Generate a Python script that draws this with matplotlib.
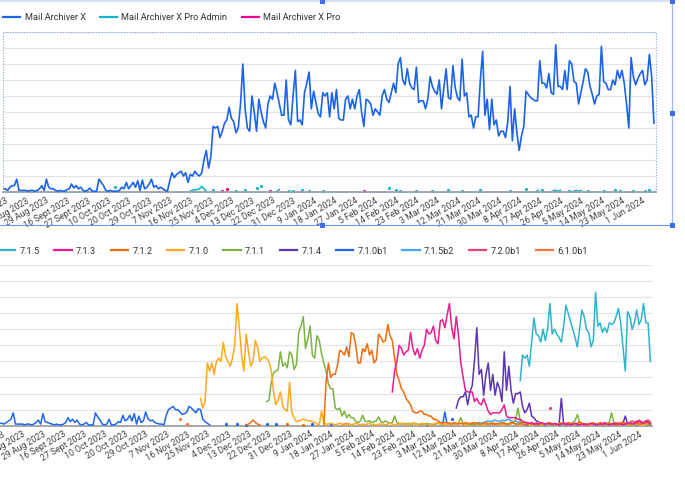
import numpy as np
import matplotlib.pyplot as plt
from matplotlib.lines import Line2D
from matplotlib.patches import Rectangle

plt.rcParams['font.family'] = ['Roboto', 'DejaVu Sans']

W, H = 685, 482
N = 286  # number of day categories on the x axis

tick_labels = ['23 Jul 2023', '11 Aug 2023', '29 Aug 2023', '16 Sept 2023', '27 Sept 2023',
               '10 Oct 2023', '20 Oct 2023', '29 Oct 2023', '7 Nov 2023', '16 Nov 2023',
               '25 Nov 2023', '4 Dec 2023', '13 Dec 2023', '22 Dec 2023', '31 Dec 2023',
               '9 Jan 2024', '18 Jan 2024', '27 Jan 2024', '5 Feb 2024', '14 Feb 2024',
               '23 Feb 2024', '3 Mar 2024', '12 Mar 2024', '21 Mar 2024', '30 Mar 2024',
               '8 Apr 2024', '17 Apr 2024', '26 Apr 2024', '5 May 2024', '14 May 2024',
               '23 May 2024', '1 Jun 2024']

# ---- top chart: product ----
mail_x = [2, 2, 1, 3, 4, 4, 8, 1, 1, 1, 1, 0.5, 1, 1, 0.5, 1, 2, 4, 1, 8,
          3, 2, 2, 1, 0.5, 1, 0.5, 0.5, 1.5, 2, 5, 2.5, 4, 2, 3, 1, 0.5, 1, 2.5, 0.5,
          0.5, 0.5, 8, 6, 4, 1, 0.5, 1, 0.5, 0.5, 0.5, 1, 3, 2, 6, 2, 4, 6, 3, 7,
          1, 7.5, 2, 3, 5, 8, 3, 4, 2, 3, 2, 1, 0.5,
          7, 12, 9, 11, 12, 13, 10, 12, 6, 11,
          10, 13, 11, 10, 12, 20, 26, 15, 22, 41,
          40, 41, 34, 38, 43, 45, 53, 46, 44, 37,
          40, 55, 80, 52, 40, 38, 60, 50, 38, 58,
          50, 44, 40, 55, 60, 58, 68, 62, 55, 48,
          48, 70, 45, 42, 60, 76, 44, 45, 42, 62,
          68, 75, 52, 63, 56, 49, 47, 62, 60, 62,
          47, 62, 52, 64, 46, 45,
          45, 58, 60, 52, 58, 52, 60, 64, 50, 41,
          58, 57, 55, 48, 52, 50, 48, 60, 64, 58,
          56, 62, 68, 62, 80, 84, 70, 67, 77, 68,
          65, 64, 78, 56, 57, 57, 52, 58, 72, 66,
          63, 61, 70, 52, 65, 77, 59, 58, 79, 65,
          59, 57, 83, 60, 62, 47, 48, 40, 47, 47,
          70, 88, 48, 58, 39, 58, 42, 45, 35, 38,
          38, 34, 44, 66, 32, 52, 37, 26, 35, 41,
          63, 61, 59, 58, 57, 57, 82, 68, 68, 65,
          74, 62, 61, 92, 66, 66, 64, 76, 64, 82,
          80, 69, 68, 55, 62, 69, 77, 75, 66, 61,
          55, 60, 61, 91, 69, 68, 64, 64, 70, 67,
          76, 71, 76, 68, 55, 40, 84, 72, 67, 71,
          74, 76, 67, 70, 86, 72, 43]

pro_admin = [(49, [3]), (82, [0.5, 1, 1.5, 1.5, 2, 3.5, 2, 0.5]), (92, [1]), (102, [0.5]),
             (106, [1]), (111, [2.3]), (113, [3.5]), (120, [0.5, 1.5]), (125, [0.5]),
             (127, [0.5]), (131, [1]), (134, [0.5]), (140, [0.5]), (169, [2.5]), (172, [1.5]),
             (174, [0.5]), (181, [0.5]), (188, [0.5]), (195, [1]), (201, [0.5]), (209, [1]),
             (222, [0.5]), (229, [2]), (234, [0.5]), (236, [1]), (241, [1, 1, 0.5, 1]),
             (248, [0.5]), (250, [0.5, 1, 0.5, 1]), (256, [0.5]), (263, [0.5]), (268, [1]),
             (270, [0.5]), (276, [0.5]), (281, [0.5]), (283, [1])]
pro = [(96, [0.5]), (98, [2]), (117, [0.5]), (158, [0.5])]

# ---- bottom chart: app version ----
v715 = [(228, [28, 44, 42, 44, 37, 52, 67, 57, 56, 52, 60, 53, 60, 76, 57, 60, 57, 55, 52, 62,
               75, 70, 65, 60, 55, 49, 60, 72, 68, 60, 58, 49, 53, 83, 62, 64, 58, 61, 58, 64,
               63, 64, 68, 73, 64, 49, 34, 71, 68, 60, 64, 72, 63, 66, 76, 64, 64, 40])]
v713 = [(172, [21, 34, 40, 50, 48, 44, 46, 47, 58, 48, 44, 48, 42, 47, 50, 60, 57, 58, 62, 53,
               51, 65, 66, 61, 69, 76, 61, 54, 68, 56, 39, 30, 22, 21, 21, 21, 15, 17, 14, 13,
               17, 13, 9, 7, 8, 8, 8, 8, 10, 13, 6, 5, 5, 5, 5, 4, 4, 3, 2,
               2, 1.5, 2, 1, 1.5, 1, 2, 1.5, 1, 1.5, 1, 1, 1.5, 1, 0.5, 1, 1.5, 1, 1, 0.5,
               1, 1.5, 1, 0.5, 1, 1, 0.5, 1, 1.5, 1, 1, 0.5, 1, 1, 1.5, 1, 0.5, 1, 1, 1.5,
               1, 1, 0.5, 1, 1.5, 2, 1, 1.5, 2.5, 3, 2, 1.5, 3, 2, 1])]
v712 = [(108, [0.5, 1, 2, 3.5, 2, 1, 0.5]), (126, [1]), (133, [0.5]),
        (142, [0.5, 27, 39, 30, 32, 32, 38, 47, 46, 44, 49, 43, 58, 57, 50, 39, 39, 48, 46, 51,
               44, 47, 39, 41, 57, 55, 52, 53, 63, 56, 53, 42, 32, 28, 23, 21, 17, 15, 13, 9,
               8, 8, 9, 9, 7, 7, 6, 6, 4, 4, 3, 2, 1.5, 2, 2,
               1.5, 1, 2, 1.5, 1, 1.5, 1, 2, 1.5, 1, 1.5, 2, 1.5, 1, 1, 1.5, 2, 1, 1.5, 1,
               1, 1.5, 1, 2, 1.5, 1, 1, 2, 1.5, 1, 1, 1.5, 1, 0.5, 1, 1.5, 1, 1, 0.5, 1,
               1.5, 1, 1, 1.5, 2, 1, 1, 0.5, 1, 1.5, 1, 1, 2, 1.5, 1, 1, 1.5, 2.5, 1.5, 1,
               1, 0.5, 1, 1.5, 1, 1, 2, 1.5, 1, 1, 1.5, 1, 0.5, 1, 1, 1.5, 2, 1, 1, 1.5,
               1, 2, 1.5, 1, 1, 1.5, 2, 2.5, 1.5])]
v710 = [(88, [17, 11, 15, 39, 34, 39, 32, 40, 42, 40, 52, 43, 40, 37, 42, 50, 76, 61, 44, 34,
              57, 46, 37, 40, 53, 49, 40, 42, 43, 42, 40, 34, 21, 13, 16, 21, 12, 10, 9, 27,
              8, 5, 2.5, 3, 3.5, 4, 3.5, 3, 3, 2.5, 2, 1, 0.5, 9, 1.5, 1, 1, 1.5, 1, 0.5,
              1, 1.5, 1, 0.5, 1, 1, 0.5, 1, 1.5, 1, 0.5, 1, 0.5, 1, 1.5, 0.5, 1, 0.5, 1, 1,
              1, 0.5, 1, 1.5, 1, 0.5, 1, 1, 1.5, 1, 0.5, 1, 1, 2, 1, 0.5, 1, 1.5, 1, 1,
              0.5, 1, 1, 1.5, 2, 1, 1, 0.5, 1, 1, 1.5, 1, 1, 2, 1.5, 1, 0.5, 1, 1.5, 2,
              1.5, 1, 1, 0.5, 1, 1, 1.5, 1, 2, 1.5, 1, 1, 0.5, 1, 1.5, 1, 1, 2, 1, 0.5,
              1, 1, 1.5, 1, 0.5, 1, 1, 1.5, 2, 1, 0.5, 1, 1, 1.5, 1, 1, 0.5, 1, 2, 1,
              1, 1.5, 1, 0.5, 1, 1, 1.5, 1, 1, 0.5, 1, 1.5, 2, 1, 1, 0.5, 1, 1, 1.5, 1,
              1, 0.5, 1, 1.5, 1, 2, 1, 1, 0.5, 1, 1.5, 1, 1, 0.5, 1, 1, 1.5, 1])]
v711 = [(117, [15, 16, 27, 33, 34, 35, 46, 37, 39, 36, 46, 44, 35, 38, 58, 62, 68, 48, 54, 62,
               44, 42, 56, 53, 45, 39, 34, 26, 23, 23, 11, 10, 11, 6, 9, 5, 7, 5, 5, 2.5,
               2, 3, 6.5, 3, 2.5, 3, 2, 2.5, 3, 5.5, 2.5, 2, 3, 2, 1.5, 2, 6, 2, 1.5, 1,
               1.5, 1, 1.5, 1, 1, 1.5, 1, 0.5, 1, 1, 1.5, 1, 1, 0.5, 1, 1.5, 1, 1, 0.5, 1,
               1, 1.5, 1, 1, 2, 5, 1.5, 1, 0.5, 1, 1, 0.5, 1, 1.5, 1, 1, 0.5, 1, 1, 1.5,
               1, 1, 1.5, 2, 1.5, 1, 1, 1.5, 2, 4, 11, 3, 1.5, 1, 1, 0.5, 1, 1, 1.5, 1,
               0.5, 1, 1, 1.5, 1, 0.5, 1, 1, 0.5, 1, 1, 1.5, 1, 1, 2, 3, 7, 2, 1, 1,
               0.5, 1, 1, 1.5, 1, 1, 0.5, 1, 1, 1.5, 2, 8, 2, 1, 1, 0.5, 1, 1, 1.5, 1,
               1, 0.5, 1, 1, 1.5, 1, 1, 0.5, 1])]
v714 = [(200, [11, 16, 18, 18, 21, 13, 21, 25, 41, 61, 32, 35, 19, 32, 39, 22, 32, 19, 27, 23,
               15, 46, 22, 37, 22, 14, 20, 20, 21, 12, 8, 10, 14, 6, 5, 3, 2.5, 1.5,
               1, 0.5, 1, 1, 0.5, 1, 1, 0.5, 17, 1, 0.5, 1, 1, 0.5, 1, 0.5, 1, 1, 0.5, 1,
               1, 1.5, 1, 0.5, 1, 1, 0.5, 1, 1, 1.5, 1, 1, 0.5, 1, 1, 1.5, 6, 1, 0.5, 1,
               1, 0.5, 1, 1, 1.5, 1, 0.5, 1])]
v710b1 = [(0, [1.5, 1.5, 1, 2, 3, 4, 8, 1, 1, 1, 1, 0.5, 1, 1, 0.5, 1, 2, 3.5, 1, 7.5,
               2.5, 2, 1.5, 1, 0.5, 1, 0.5, 0.5, 1, 2, 5, 2.5, 4, 2, 3.5, 1, 0.5, 1, 2, 0.5,
               0.5, 0.5, 8, 5.5, 3.5, 1, 0.5, 1, 4, 0.5, 0.5, 1, 2.5, 2, 6.5, 3, 4, 6.5, 3, 7.5,
               1, 6, 2, 3, 8.5, 4.5, 3, 3.5, 2, 1.5, 1, 1, 0.5,
               6.5, 10, 11, 12, 10, 10, 8.5, 7, 7.5, 8.5, 12, 11, 9.5, 8, 10.5, 10, 4, 2.5,
               1.5, 0.5]),
          (99, [1]), (104, [1]), (108, [0.5]), (117, [1]), (121, [1]), (137, [1]), (145, [1]),
          (187, [1]), (194, [0.5, 8.5, 1]), (198, [4]), (231, [1]), (236, [1.5])]
v715b2 = [(205, [1, 1, 1.5, 1, 1.5, 2, 1.5, 2, 2.5, 3, 2.5, 3, 3.5, 3, 2.5, 3.5, 3, 3.5, 4, 3,
                 2.5, 3, 2, 2.5, 2, 1.5, 1.5, 1, 1, 1.5, 1, 0.5, 1, 0.5, 0.5]),
          (244, [0.5, 1, 0.5, 1, 1.5, 1, 0.5]), (262, [1, 0.5, 1, 1.5, 1, 0.5, 1, 1])]
v720b1 = [(241, [11]),
          (262, [1, 1.5, 1, 2, 1, 1.5, 1, 2, 1.5, 1, 1, 2, 1.5, 1, 2, 3, 2, 1, 3.5, 2.5,
                 1.5, 3, 3.5, 2.5])]
v610b1 = [(79, [4]), (82, [1]), (150, [0.5, 1, 1.5, 1, 0.5]),
          (270, [1, 2, 1.5, 2.5, 1, 1.5, 2, 1, 2, 3, 1.5, 1, 2, 2.5, 1, 1.5])]


def place(parts):
    arr = np.full(N, np.nan)
    for start, vals in parts:
        vals = list(vals)[:N - start]
        arr[start:start + len(vals)] = vals
    return arr


def draw(ax, y, color, lw=1.1, z=2):
    x = np.arange(N)
    ax.plot(x, y, color=color, lw=lw, solid_joinstyle='round', zorder=z)
    ok = ~np.isnan(y)
    prev = np.r_[False, ok[:-1]]
    nxt = np.r_[ok[1:], False]
    iso = ok & ~prev & ~nxt
    ax.plot(x[iso], y[iso], 'o', color=color, ms=2.3, mew=0, clip_on=False, zorder=z)


def style(ax, xlim):
    ax.set_xlim(*xlim)
    ax.set_ylim(0, 100)
    ax.set_yticks(range(10, 101, 10))
    ax.set_yticklabels([])
    ax.tick_params(axis='y', length=0)
    ax.grid(axis='y', color='#e4e4e4', lw=0.9)
    ax.set_axisbelow(True)
    for s in ['top', 'right', 'left']:
        ax.spines[s].set_visible(False)
    ax.spines['bottom'].set_color('#a0a0a0')
    ax.spines['bottom'].set_linewidth(1.3)
    ticks = list(range(1, N, 9))[:len(tick_labels)]
    ax.set_xticks(ticks)
    ax.set_xticklabels(tick_labels, rotation=30, ha='right', va='top',
                       rotation_mode='anchor', fontsize=6.3, color='#444444')
    ax.tick_params(axis='x', length=0, pad=3)


fig = plt.figure(figsize=(W / 100, H / 100), dpi=100)
fig.patch.set_facecolor('white')

# top chart
ax1 = fig.add_axes([3 / W, (H - 192) / H, 653 / W, 160 / H])
style(ax1, (0, 285.9))
top_series = [('Mail Archiver X', np.array(mail_x, float), '#1a63ea'),
              ('Mail Archiver X Pro Admin', place(pro_admin), '#12b5cb'),
              ('Mail Archiver X Pro', place(pro), '#f10096')]
for i, (name, y, c) in enumerate(top_series):
    draw(ax1, y, c, lw=1.2, z=3 - i)
hs = [Line2D([], [], color=c, lw=1.6) for _, _, c in top_series]
fig.legend(hs, [n for n, _, _ in top_series], loc='center left',
           bbox_to_anchor=(3 / W, 1 - 18 / H), bbox_transform=fig.transFigure,
           ncol=3, frameon=False, fontsize=6.6, handlelength=1.9, handletextpad=0.45,
           columnspacing=1.55, borderpad=0, borderaxespad=0, labelcolor='#333333')

# bottom chart
ax2 = fig.add_axes([0, (H - 425.7) / H, 652 / W, 160.7 / H])
style(ax2, (0.22, 285.7))
bottom_series = [('7.1.5', place(v715), '#2fb4cd'),
                 ('7.1.3', place(v713), '#ec1b8e'),
                 ('7.1.2', place(v712), '#f36c0c'),
                 ('7.1.0', place(v710), '#ffaa1c'),
                 ('7.1.1', place(v711), '#7cb342'),
                 ('7.1.4', place(v714), '#5e35b1'),
                 ('7.1.0b1', place(v710b1), '#1f66ee'),
                 ('7.1.5b2', place(v715b2), '#45a6f3'),
                 ('7.2.0b1', place(v720b1), '#ec407a'),
                 ('6.1.0b1', place(v610b1), '#ff7043')]
for i, (name, y, c) in enumerate(bottom_series):
    draw(ax2, y, c, lw=1.1, z=12 - i)
hs = [Line2D([], [], color=c, lw=1.6) for _, _, c in bottom_series]
fig.legend(hs, [n for n, _, _ in bottom_series], loc='center left',
           bbox_to_anchor=(-2 / W, 1 - 251 / H), bbox_transform=fig.transFigure,
           ncol=10, frameon=False, fontsize=6.6, handlelength=1.9, handletextpad=0.45,
           columnspacing=1.6, borderpad=0, borderaxespad=0, labelcolor='#333333')

# editor selection frame around the top chart
def fx(x):
    return x / W


def fy(y):
    return 1 - y / H


fig.add_artist(Rectangle((fx(3), fy(192)), fx(656) - fx(3), fy(32) - fy(192),
                         transform=fig.transFigure, fill=False, ec='#86a3ee',
                         lw=0.8, ls=(0, (1, 1.5)), zorder=20))
fig.add_artist(Line2D([0, fx(672)], [fy(0.5), fy(0.5)], transform=fig.transFigure,
                      color='#d3dbf6', lw=1.2))
fig.add_artist(Line2D([fx(672), fx(672)], [fy(0), fy(225)], transform=fig.transFigure,
                      color='#9db4f3', lw=0.9))
fig.add_artist(Line2D([0, fx(672)], [fy(225), fy(225)], transform=fig.transFigure,
                      color='#6f93f1', lw=0.8))
for hx, hy in [(672, 1), (672, 113), (672, 225), (322, 225), (322, 1)]:
    fig.add_artist(Rectangle((fx(hx - 2.5), fy(hy + 2.5)), 5 / W, 5 / H,
                             transform=fig.transFigure, fc='#3d6ef0', ec='none', zorder=21))

fig.savefig('out.png', dpi=100)
